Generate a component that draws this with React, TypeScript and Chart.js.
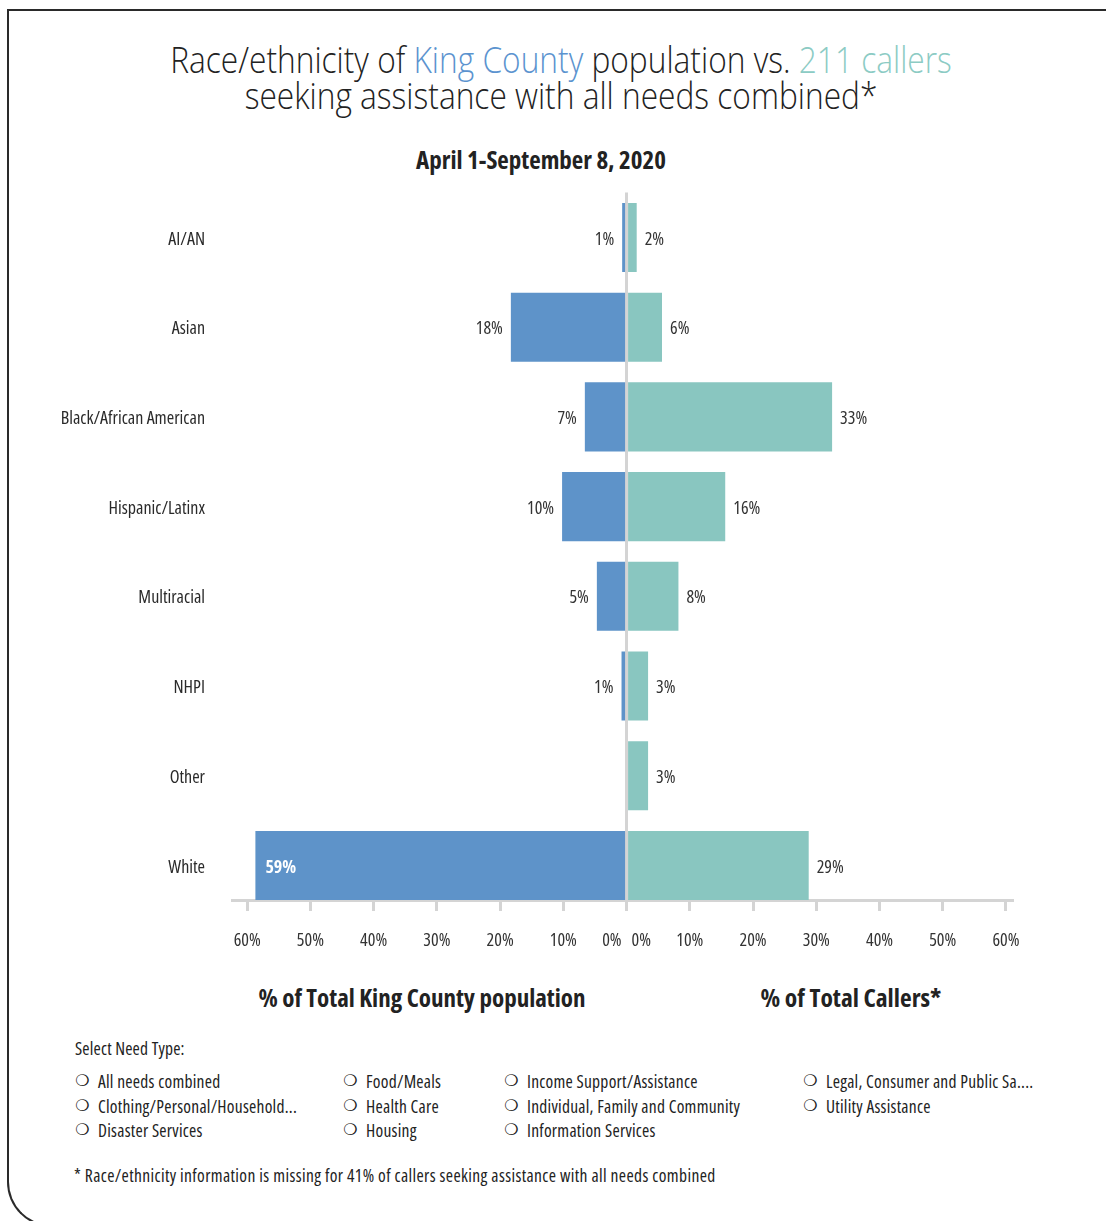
import React, { useEffect, useRef } from 'react';
import { Chart, registerables } from 'chart.js';

Chart.register(...registerables);

const FAMILY = "'Open Sans', 'DejaVu Sans Condensed', sans-serif";
// Chart.js puts the weight before the size in the canvas font string, so "condensed" becomes a font-stretch keyword
const COND_W = 'condensed';
const COND_BOLD_W = 'bold condensed';

const categories = ['AI/AN', 'Asian', 'Black/African American', 'Hispanic/Latinx', 'Multiracial', 'NHPI', 'Other', 'White'];
const populationPct = [0.7, 18.3, 6.6, 10.2, 4.7, 0.8, 0, 58.7];
const callersPct = [1.6, 5.6, 32.5, 15.6, 8.2, 3.4, 3.4, 28.8];

const needTypeColumns = [
  ['All needs combined', 'Clothing/Personal/Household...', 'Disaster Services'],
  ['Food/Meals', 'Health Care', 'Housing'],
  ['Income Support/Assistance', 'Individual, Family and Community', 'Information Services'],
  ['Legal, Consumer and Public Sa....', 'Utility Assistance'],
];
const needColumnLefts = [75, 343, 504, 803];

const BLUE = '#5e93c9';
const TEAL = '#89c6c0';
const AXIS_GRAY = '#d4d4d4';

const Y_MIN = -0.5;
const Y_MAX = 7.385;

const valueLabels = {
  id: 'valueLabels',
  afterDatasetsDraw(chart: any) {
    const ctx = chart.ctx;
    ctx.save();
    ctx.textBaseline = 'middle';
    chart.data.datasets.forEach((_ds: any, di: number) => {
      const meta = chart.getDatasetMeta(di);
      const src = di === 0 ? populationPct : callersPct;
      meta.data.forEach((bar: any, i: number) => {
        const v = Math.round(src[i]);
        if (!v) return;
        const text = v + '%';
        const y = bar.y + 2;
        ctx.font = `${COND_W} 18px ${FAMILY}`;
        ctx.fillStyle = '#333333';
        if (di === 0) {
          if (src[i] > 40) {
            ctx.font = `${COND_BOLD_W} 18px ${FAMILY}`;
            ctx.fillStyle = '#ffffff';
            ctx.textAlign = 'left';
            ctx.fillText(text, bar.x + 10, y);
          } else {
            ctx.textAlign = 'right';
            ctx.fillText(text, bar.x - 8, y);
          }
        } else {
          ctx.textAlign = 'left';
          ctx.fillText(text, bar.x + 8, y);
        }
      });
    });
    ctx.restore();
  },
};

function ButterflyChart() {
  const ref = useRef<HTMLCanvasElement | null>(null);
  useEffect(() => {
    if (!ref.current) return;
    const chart = new Chart(ref.current, {
      type: 'bar',
      data: {
        datasets: [
          {
            label: '% of Total King County population',
            data: categories.map((_c, i) => ({ x: -populationPct[i], y: i })),
            backgroundColor: BLUE,
            borderWidth: 0,
            barPercentage: 0.77,
            categoryPercentage: 1,
          },
          {
            label: '% of Total Callers*',
            data: categories.map((_c, i) => ({ x: callersPct[i], y: i })),
            backgroundColor: TEAL,
            borderWidth: 0,
            barPercentage: 0.77,
            categoryPercentage: 1,
          },
        ],
      },
      options: {
        indexAxis: 'y',
        responsive: false,
        animation: false,
        layout: { padding: { top: 12.6, bottom: 20, left: 0, right: 94 } },
        plugins: { legend: { display: false }, tooltip: { enabled: false }, title: { display: false } },
        scales: {
          x: {
            type: 'linear',
            stacked: true,
            min: -62.4,
            max: 60.95,
            z: 1,
            afterFit: (s: any) => { s.height = 60; },
            border: { display: true, color: AXIS_GRAY, width: 3 },
            grid: {
              drawOnChartArea: true,
              drawTicks: true,
              tickLength: 11,
              tickWidth: 3,
              tickColor: AXIS_GRAY,
              lineWidth: 3,
              color: (c: any) => (c.tick && c.tick.value === 0 ? AXIS_GRAY : 'rgba(0,0,0,0)'),
            },
            ticks: {
              stepSize: 10,
              includeBounds: false,
              maxTicksLimit: 20,
              autoSkip: false,
              maxRotation: 0,
              padding: 19,
              color: '#333333',
              font: { family: FAMILY, size: 18, weight: COND_W },
              callback: (v: any) => (v === 0 ? '0%   0%' : Math.abs(v) + '%'),
            },
          },
          y: {
            type: 'linear',
            stacked: true,
            reverse: true,
            offset: false,
            min: Y_MIN,
            max: Y_MAX,
            afterBuildTicks: (s: any) => {
              s.ticks = categories.map((_c, i) => ({ value: i }));
            },
            afterFit: (s: any) => { s.width = 232; },
            border: { display: false },
            grid: {
              display: true,
              offset: false,
              drawOnChartArea: false,
              drawTicks: true,
              tickLength: 27,
              tickColor: 'rgba(0,0,0,0)',
              color: 'rgba(0,0,0,0)',
            },
            ticks: {
              autoSkip: false,
              padding: 0,
              labelOffset: 2,
              color: '#2a2a2a',
              font: { family: FAMILY, size: 18, weight: COND_W },
              callback: (v: any) => categories[v] ?? '',
            },
          },
        },
      },
      plugins: [valueLabels],
    } as any);
    return () => chart.destroy();
  }, []);
  return <canvas ref={ref} width={1106} height={800} style={{ position: 'absolute', left: 0, top: 180 }} />;
}

export default function App() {
  const text = { fontFamily: FAMILY, fontStretch: '75%', color: '#222' } as const;
  return (
    <div style={{ position: 'absolute', left: 0, top: 0, width: 1106, height: 1221, overflow: 'hidden', background: '#fff' }}>
      <div
        style={{
          position: 'absolute', left: 7, top: 9, width: 1200, height: 1218, boxSizing: 'border-box',
          borderTop: '2px solid #2a2a2a', borderLeft: '2px solid #2a2a2a', borderBottom: '2px solid #2a2a2a',
          borderBottomLeftRadius: 45,
        }}
      />
      <div
        style={{
          ...text, fontStretch: '100%', fontWeight: 300, position: 'absolute', left: 8, width: 1106, top: 42,
          textAlign: 'center', fontSize: 36, lineHeight: '36px', transform: 'scaleX(0.88)', transformOrigin: '50% 50%',
        }}
      >
        Race/ethnicity of <span style={{ color: '#5b93cf' }}>King County</span> population vs. <span style={{ color: '#8ccbc4' }}>211 callers</span>
        <br />
        seeking assistance with all needs combined*
      </div>
      <div style={{ ...text, position: 'absolute', left: 0, width: 1082, top: 143, textAlign: 'center', fontSize: 25, fontWeight: 'bold', lineHeight: '32px' }}>
        April 1-September 8, 2020
      </div>
      <ButterflyChart />
      <div style={{ ...text, position: 'absolute', left: 222, width: 400, top: 981, textAlign: 'center', fontSize: 25, fontWeight: 'bold', lineHeight: '32px' }}>
        % of Total King County population
      </div>
      <div style={{ ...text, position: 'absolute', left: 651, width: 400, top: 981, textAlign: 'center', fontSize: 25.5, fontWeight: 'bold', lineHeight: '32px' }}>
        % of Total Callers*
      </div>
      <div style={{ ...text, letterSpacing: '0.18px', position: 'absolute', left: 75, top: 1036, fontSize: 17.5, lineHeight: '24px' }}>Select Need Type:</div>
      {needTypeColumns.map((col, ci) => (
        <div key={ci} style={{ position: 'absolute', left: needColumnLefts[ci], top: 1069 }}>
          {col.map((item, ri) => (
            <div key={ri} style={{ display: 'flex', alignItems: 'center', height: 24.5, whiteSpace: 'nowrap' }}>
              <span style={{ fontFamily: "'DejaVu Sans', sans-serif", fontSize: 16, lineHeight: '16px', color: '#222', width: 23, display: 'inline-block' }}>❍</span>
              <span style={{ ...text, letterSpacing: '0.25px', fontSize: 17.5, lineHeight: '24px' }}>{item}</span>
            </div>
          ))}
        </div>
      ))}
      <div style={{ ...text, letterSpacing: '0.38px', position: 'absolute', left: 74, top: 1163, fontSize: 17.5, lineHeight: '24px' }}>
        * Race/ethnicity information is missing for 41% of callers seeking assistance with all needs combined
      </div>
    </div>
  );
}
